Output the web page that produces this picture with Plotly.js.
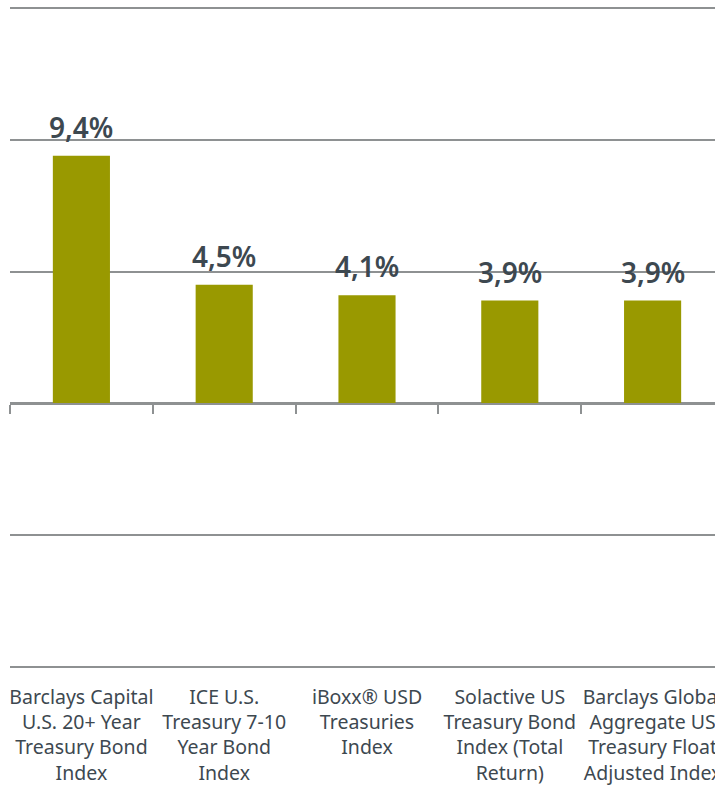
<!DOCTYPE html>
<html>
<head>
<meta charset="utf-8">
<script src="https://cdn.plot.ly/plotly-3.0.1.min.js"></script>
<style>
  html, body { margin: 0; padding: 0; overflow: hidden; background: #fff; }
  #chart { width: 735px; height: 791px; }
</style>
</head>
<body>
<div id="chart"></div>
<script>
const categories = [
  "Barclays Capital<br>U.S. 20+ Year<br>Treasury Bond<br>Index",
  "ICE U.S.<br>Treasury 7-10<br>Year Bond<br>Index",
  "iBoxx® USD<br>Treasuries<br>Index",
  "Solactive US<br>Treasury Bond<br>Index (Total<br>Return)",
  "Barclays Global<br>Aggregate US<br>Treasury Float<br>Adjusted Index"
];
const returns = [9.4, 4.5, 4.1, 3.9, 3.9];

const barColor = "#999900";
const textColor = "#3d4850";
const gridColor = "#8e9192";

const labelFont = "'Noto Sans', 'Open Sans', sans-serif";

const traces = [{
  type: "bar",
  x: categories,
  y: returns,
  width: 0.4,
  marker: { color: barColor },
  hoverinfo: "skip"
}, {
  // invisible copy so the zero-line axis (x2) gets drawn
  type: "scatter",
  mode: "markers",
  x: categories,
  y: returns,
  xaxis: "x2",
  marker: { opacity: 0 },
  hoverinfo: "skip",
  showlegend: false
}];

const annotations = returns.map((v, i) => ({
  x: categories[i],
  y: v,
  xref: "x",
  yref: "y",
  text: v.toFixed(1).replace(".", ",") + "%",
  showarrow: false,
  yanchor: "bottom",
  yshift: 8,
  font: { family: labelFont, size: 28, weight: 600, color: textColor }
}));

const layout = {
  width: 735,
  height: 791,
  margin: { l: 10, r: 11, t: 7, b: 123 },
  paper_bgcolor: "#ffffff",
  plot_bgcolor: "#ffffff",
  showlegend: false,
  xaxis: {
    type: "category",
    categoryarray: categories,
    range: [-0.5, 4.5],
    ticks: "",
    showline: false,
    showgrid: false,
    zeroline: false,
    ticklabelstandoff: 15,
    tickfont: { family: labelFont, size: 19.5, color: textColor },
    fixedrange: true
  },
  xaxis2: {
    type: "category",
    categoryarray: categories,
    range: [-0.5, 4.5],
    overlaying: "x",
    anchor: "free",
    position: 0.4,
    side: "bottom",
    showline: true,
    linecolor: gridColor,
    linewidth: 2,
    ticks: "outside",
    tickson: "boundaries",
    ticklen: 9,
    tickwidth: 2,
    tickcolor: gridColor,
    showticklabels: false,
    showgrid: false,
    zeroline: false,
    fixedrange: true
  },
  yaxis: {
    range: [-10.04, 15.04],
    dtick: 5,
    showticklabels: false,
    showgrid: true,
    gridcolor: gridColor,
    gridwidth: 2,
    zeroline: false,
    showline: false,
    fixedrange: true
  },
  annotations: annotations
};

Plotly.newPlot("chart", traces, layout, { displayModeBar: false, staticPlot: true });
</script>
</body>
</html>
